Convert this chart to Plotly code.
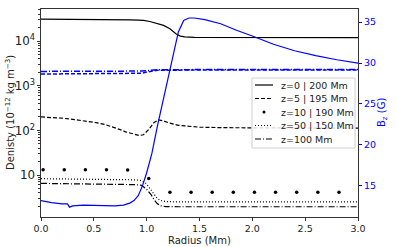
import plotly.graph_objects as go

# ---- data ----
r_z0 = [0.0, 0.2, 0.4, 0.6, 0.75, 0.85, 0.92, 0.97, 1.03, 1.1, 1.16, 1.22, 1.28, 1.32, 1.36, 1.45, 1.7, 2.0, 2.5, 3.0]
rho_z0 = [31000, 31000, 30800, 30600, 30300, 30000, 29700, 29200, 27500, 25000, 22500, 19000, 14500, 13000, 12500, 12200, 12100, 12050, 12000, 12000]

r_z5 = [0.0, 0.1, 0.2, 0.3, 0.4, 0.5, 0.6, 0.7, 0.75, 0.8, 0.88, 0.93, 0.97, 1.02, 1.07, 1.11, 1.15, 1.2, 1.3, 1.4, 1.5, 1.75, 2.0, 2.5, 3.0]
rho_z5 = [200, 196, 188, 177, 165, 152, 137, 116, 104, 93, 82, 77, 80, 105, 150, 172, 166, 150, 130, 122, 118, 115, 114, 113, 112]

r_z10 = [0.02, 0.22, 0.42, 0.62, 0.82, 1.02, 1.22, 1.42, 1.62, 1.82, 2.02, 2.22, 2.42, 2.62, 2.82]
rho_z10 = [13.1, 13.1, 13.1, 13.1, 13.0, 8.4, 4.1, 4.1, 4.1, 4.1, 4.1, 4.1, 4.1, 4.1, 4.1]

r_z50 = [0.0, 0.3, 0.6, 0.75, 0.9, 0.95, 1.0, 1.03, 1.06, 1.1, 1.13, 1.18, 1.3, 2.0, 3.0]
rho_z50 = [8.3, 8.2, 8.1, 8.0, 7.8, 7.5, 6.3, 5.0, 3.9, 3.0, 2.7, 2.55, 2.5, 2.5, 2.5]

r_z100 = [0.0, 0.3, 0.6, 0.75, 0.9, 0.95, 1.0, 1.04, 1.07, 1.1, 1.13, 1.18, 1.3, 2.0, 3.0]
rho_z100 = [6.5, 6.4, 6.3, 6.2, 6.1, 5.9, 4.8, 3.7, 2.8, 2.3, 2.05, 1.97, 1.95, 1.95, 1.95]

r_bz0 = [0.0, 0.1, 0.2, 0.25, 0.27, 0.3, 0.4, 0.5, 0.6, 0.7, 0.78, 0.84, 0.88, 0.92, 0.96, 1.0, 1.05, 1.1, 1.15, 1.2, 1.25, 1.3, 1.35, 1.4, 1.45, 1.55, 1.7, 1.85, 2.0, 2.2, 2.4, 2.6, 2.8, 3.0]
bz_z0 = [13.2, 12.95, 12.8, 12.8, 12.4, 12.55, 12.65, 12.65, 12.6, 12.55, 12.65, 12.9, 13.2, 13.8, 15.0, 16.6, 19.0, 22.2, 25.2, 28.0, 31.0, 33.8, 35.2, 35.5, 35.5, 35.3, 34.8, 34.0, 33.3, 32.3, 31.5, 30.9, 30.4, 30.0]

r_bzh = [0.0, 0.5, 0.9, 0.95, 1.0, 1.05, 1.1, 1.5, 2.0, 3.0]
bz_z5 = [28.66, 28.68, 28.7, 28.75, 28.9, 29.05, 29.12, 29.15, 29.15, 29.15]
bz_z50 = [28.98, 28.98, 29.0, 29.02, 29.08, 29.15, 29.18, 29.2, 29.2, 29.2]

labels = ["z=0 | 200 Mm", "z=5 | 195 Mm", "z=10 | 190 Mm", "z=50 | 150 Mm", "z=100 Mm"]

x_ticks = [0.0, 0.5, 1.0, 1.5, 2.0, 2.5, 3.0]
bz_ticks = [15, 20, 25, 30, 35]

BLUE = "#0000ff"
INK = "#222222"
DASH = "4px,2px"
DOT = "1px,2px"
DASHDOT = "6px,2px,1px,2px"

W, H = 397, 247
ML, MR, MT, MB = 41, 39, 9, 30
PW, PH = W - ML - MR, H - MT - MB


def px_x(px):
    return (px - ML) / PW


def px_y(py):
    return (H - MB - py) / PH


fig = go.Figure()

# blue Bz curves (right axis)
fig.add_trace(go.Scatter(x=r_bzh, y=bz_z5, yaxis="y2", mode="lines", showlegend=False,
                         line=dict(color=BLUE, width=1.5, dash=DASH)))
fig.add_trace(go.Scatter(x=r_bzh, y=bz_z50, yaxis="y2", mode="lines", showlegend=False,
                         line=dict(color=BLUE, width=1.5, dash=DASHDOT)))
fig.add_trace(go.Scatter(x=r_bz0, y=bz_z0, yaxis="y2", mode="lines", showlegend=False,
                         line=dict(color=BLUE, width=1.2)))

# density curves (left axis)
fig.add_trace(go.Scatter(x=r_z0, y=rho_z0, mode="lines", name=labels[0], showlegend=False,
                         line=dict(color="black", width=1.2)))
fig.add_trace(go.Scatter(x=r_z5, y=rho_z5, mode="lines", name=labels[1], showlegend=False,
                         line=dict(color="black", width=1.2, dash=DASH)))
fig.add_trace(go.Scatter(x=r_z10, y=rho_z10, mode="markers", name=labels[2], showlegend=False,
                         marker=dict(color="black", size=3.5)))
fig.add_trace(go.Scatter(x=r_z50, y=rho_z50, mode="lines", name=labels[3], showlegend=False,
                         line=dict(color="black", width=1.2, dash=DOT)))
fig.add_trace(go.Scatter(x=r_z100, y=rho_z100, mode="lines", name=labels[4], showlegend=False,
                         line=dict(color="black", width=1.2, dash=DASHDOT)))

# matplotlib-style legend box (compact)
shapes = [dict(type="rect", xref="paper", yref="paper",
               x0=px_x(252), x1=px_x(355), y0=px_y(148), y1=px_y(78),
               line=dict(color="#d0d0d0", width=1), fillcolor="rgba(255,255,255,0.85)", layer="above")]
annotations = []
row_y = [85, 98.5, 112, 125.5, 139]
styles = [("solid", None), (DASH, None), (None, "dot"), (DOT, None), (DASHDOT, None)]
for lab, ry, (dash, mk) in zip(labels, row_y, styles):
    if mk is None:
        shapes.append(dict(type="line", xref="paper", yref="paper",
                           x0=px_x(255), x1=px_x(273), y0=px_y(ry), y1=px_y(ry),
                           line=dict(color="black", width=1.2, dash=dash), layer="above"))
    else:
        shapes.append(dict(type="circle", xref="paper", yref="paper",
                           x0=px_x(262.5), x1=px_x(265.5), y0=px_y(ry + 1.5), y1=px_y(ry - 1.5),
                           line=dict(color="black", width=0), fillcolor="black", layer="above"))
    annotations.append(dict(xref="paper", yref="paper", x=px_x(279), y=px_y(ry),
                            xanchor="left", yanchor="middle", text=lab, showarrow=False,
                            font=dict(size=9.5, color=INK)))

# axis titles placed like matplotlib
annotations += [
    dict(xref="paper", yref="paper", x=0.5, y=px_y(240), xanchor="center", yanchor="middle",
         text="Radius (Mm)", showarrow=False, font=dict(size=10, color=INK)),
    dict(xref="paper", yref="paper", x=px_x(10), y=0.5, xanchor="center", yanchor="middle",
         textangle=-90, text="Denisty (10<sup>\u221212</sup> kg m<sup>\u22123</sup>)",
         showarrow=False, font=dict(size=10, color=INK)),
    dict(xref="paper", yref="paper", x=px_x(382), y=0.5, xanchor="center", yanchor="middle",
         textangle=-90, text="B<sub>z</sub> (G)", showarrow=False,
         font=dict(size=10, color=BLUE)),
]

fig.update_layout(
    width=W, height=H,
    margin=dict(l=ML, r=MR, t=MT, b=MB, autoexpand=False),
    paper_bgcolor="white", plot_bgcolor="white",
    font=dict(family="DejaVu Sans", size=9.5, color=INK),
    showlegend=False,
    shapes=shapes, annotations=annotations,
    xaxis=dict(range=[0, 3], tickvals=x_ticks, ticktext=[f"{v:.1f}" for v in x_ticks],
               automargin=False,
               showgrid=False, zeroline=False, showline=True, linecolor="#333", linewidth=1,
               mirror=True, ticks="outside", ticklen=3, tickcolor="#333"),
    yaxis=dict(type="log", range=[0.06, 4.72], dtick=1, exponentformat="power",
               automargin=False,
               showgrid=False, zeroline=False, showline=True, linecolor="#333", linewidth=1,
               ticks="outside", ticklen=3, tickcolor="#333",
               minor=dict(ticks="outside", ticklen=2, tickcolor="#333", showgrid=False)),
    yaxis2=dict(overlaying="y", side="right", range=[11.2, 36.6], tickvals=bz_ticks,
                automargin=False,
                showgrid=False, zeroline=False, showline=True, linecolor="#333", linewidth=1,
                ticks="outside", ticklen=3, tickcolor=BLUE, tickfont=dict(color=BLUE)),
)

fig.write_html("out.html", config={"displayModeBar": False},
               post_script="document.body.style.margin='0';")
